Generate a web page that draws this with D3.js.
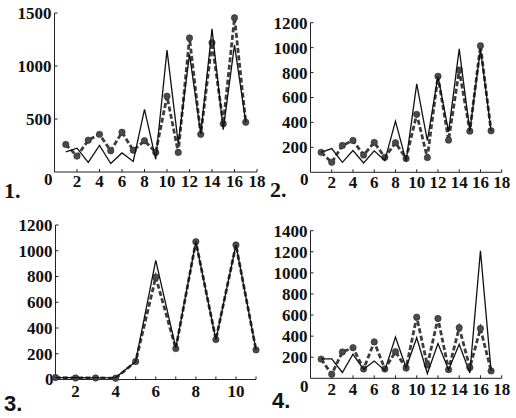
<!DOCTYPE html>
<html><head><meta charset="utf-8">
<script src="https://cdn.jsdelivr.net/npm/d3@7"></script>
<style>body{margin:0;background:#fff}svg{display:block}</style>
</head><body>
<svg id="c" width="516" height="418"></svg>
<script>
const xs18 = d3.range(1, 18);
const xs11 = d3.range(1, 12);
const solid1 = [190, 225, 90, 250, 80, 180, 100, 590, 120, 1150, 270, 1110, 360, 1350, 400, 1200, 470];
const dash1  = [260, 150, 300, 355, 200, 375, 205, 295, 185, 715, 185, 1265, 355, 1220, 455, 1455, 470];
const solid2 = [160, 190, 80, 175, 75, 172, 95, 410, 90, 710, 255, 770, 325, 990, 330, 990, 333];
const dash2  = [160, 80, 215, 255, 138, 240, 120, 237, 110, 465, 118, 770, 258, 820, 330, 1015, 333];
const solid3 = [15, 15, 12, 15, 140, 925, 245, 1070, 310, 1045, 230];
const dash3  = [15, 12, 12, 10, 140, 795, 240, 1070, 310, 1045, 230];
const solid4 = [185, 185, 55, 228, 85, 164, 75, 392, 100, 385, 45, 330, 80, 322, 50, 1210, 70];
const dash4  = [182, 38, 250, 290, 88, 345, 88, 252, 97, 580, 125, 567, 82, 480, 102, 472, 70];
const yTicks1 = [500, 1000, 1500];
const yTicks2 = [200, 400, 600, 800, 1000, 1200];
const yTicks4 = [200, 400, 600, 800, 1000, 1200, 1400];
const xLabels18 = [2, 4, 6, 8, 10, 12, 14, 16, 18];
const xLabels11 = [2, 4, 6, 8, 10];
const panelNames = ["1.", "2.", "3.", "4."];

const SERIF = '"Liberation Serif", "Times New Roman", serif';
const SANS = '"Liberation Sans", Arial, sans-serif';

const panels = [
  {xs: xs18, solid: solid1, dash: dash1, xd: [0, 18], xr: [54.5, 257], yd: [0, 1500], yr: [172, 13], yt: yTicks1, xl: xLabels18, xt: xLabels18, zdy: 7, ldy: 9, name: panelNames[0], nx: 4, ny: 198, nf: SERIF},
  {xs: xs18, solid: solid2, dash: dash2, xd: [0, 18], xr: [310.5, 501.7], yd: [0, 1200], yr: [172.3, 22.7], yt: yTicks2, xl: xLabels18, xt: xLabels18, zdy: 7, ldy: 10, name: panelNames[1], nx: 270, ny: 197, nf: SERIF},
  {xs: xs11, solid: solid3, dash: dash3, xd: [1, 11], xr: [55.5, 256], yd: [0, 1200], yr: [379.5, 225], yt: yTicks2, xl: xLabels11, xt: d3.range(1, 12), zdy: 0, ldy: 12, name: panelNames[2], nx: 4, ny: 411, nf: SANS},
  {xs: xs18, solid: solid4, dash: dash4, xd: [0, 18], xr: [310.5, 501.7], yd: [0, 1400], yr: [378.3, 230.7], yt: yTicks4, xl: xLabels18, xt: xLabels18, zdy: 8, ldy: 11, name: panelNames[3], nx: 272, ny: 408, nf: SANS}
];

const svg = d3.select("#c");

panels.forEach(p => {
  const g = svg.append("g");
  const x = d3.scaleLinear().domain(p.xd).range(p.xr);
  const y = d3.scaleLinear().domain(p.yd).range(p.yr);
  const x0 = p.xr[0], y0 = p.yr[0];

  g.append("line").attr("x1", x0).attr("x2", x0).attr("y1", y0).attr("y2", p.yr[1])
    .attr("stroke", "#222").attr("stroke-width", 1);
  g.append("line").attr("x1", x0).attr("x2", p.xr[1]).attr("y1", y0).attr("y2", y0)
    .attr("stroke", "#222").attr("stroke-width", 1);

  g.selectAll(".yt").data(p.yt).enter().append("line")
    .attr("x1", x0).attr("x2", x0 + 3).attr("y1", d => y(d)).attr("y2", d => y(d))
    .attr("stroke", "#222");
  g.selectAll(".yl").data(p.yt).enter().append("text")
    .style("font-family", SERIF).style("font-weight", "bold").style("font-size", "17px")
    .attr("x", x0 - 3).attr("y", d => y(d)).attr("dy", "0.35em")
    .attr("text-anchor", "end").attr("fill", "#111").text(d => d);
  g.append("text")
    .style("font-family", SERIF).style("font-weight", "bold").style("font-size", "17px")
    .attr("x", x0 - 2).attr("y", y(0) + p.zdy).attr("dy", "0.35em")
    .attr("text-anchor", "end").attr("fill", "#111").text("0");

  g.selectAll(".xt").data(p.xt).enter().append("line")
    .attr("x1", d => x(d)).attr("x2", d => x(d)).attr("y1", y0).attr("y2", y0 - 3)
    .attr("stroke", "#222");
  g.selectAll(".xl").data(p.xl).enter().append("text")
    .style("font-family", SERIF).style("font-weight", "bold").style("font-size", "17px")
    .attr("x", d => x(d)).attr("y", y0 + p.ldy).attr("dy", "0.35em")
    .attr("text-anchor", "middle").attr("fill", "#111").text(d => d);

  const line = d3.line().x((d, i) => x(p.xs[i])).y(d => y(d));

  g.append("path").attr("d", line(p.dash)).attr("fill", "none")
    .attr("stroke", "#3c3c3c").attr("stroke-width", 2.8).attr("stroke-dasharray", "5,2.5");
  g.selectAll(".m").data(p.dash).enter().append("circle")
    .attr("cx", (d, i) => x(p.xs[i])).attr("cy", d => y(d)).attr("r", 3.2)
    .attr("fill", "#4a4a4a").attr("stroke", "#2a2a2a").attr("stroke-width", 0.6);
  g.append("path").attr("d", line(p.solid)).attr("fill", "none")
    .attr("stroke", "#111").attr("stroke-width", 1.3);

  g.append("text").style("font-family", p.nf).style("font-weight", "bold").style("font-size", "22px")
    .attr("x", p.nx).attr("y", p.ny).attr("fill", "#111").text(p.name);
});
</script>
</body></html>
